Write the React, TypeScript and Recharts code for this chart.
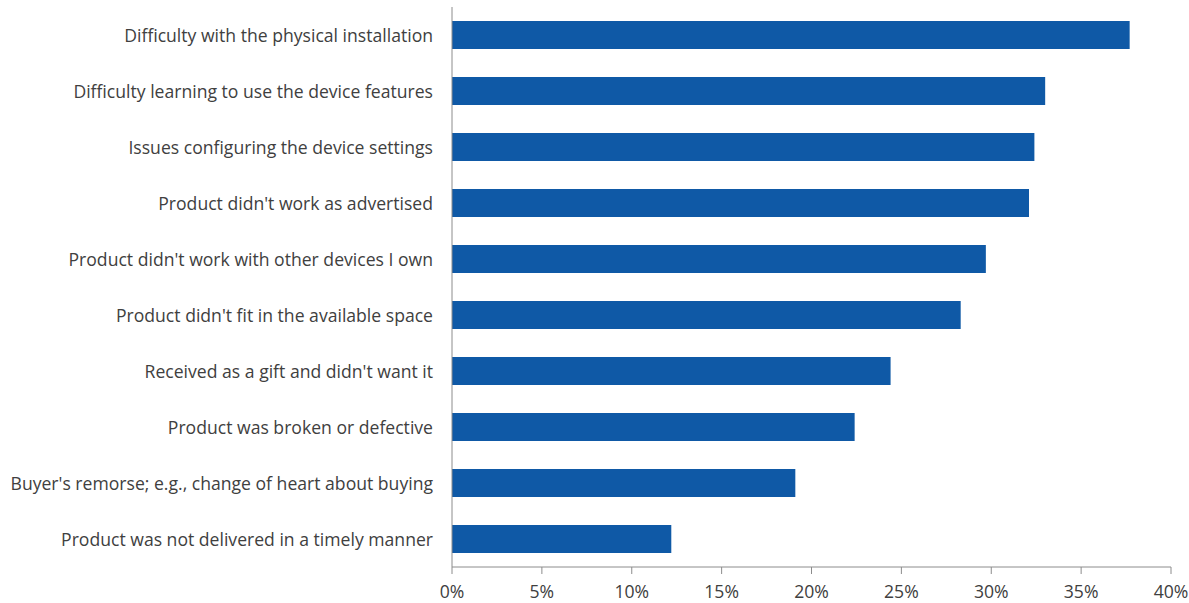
import { BarChart, Bar, XAxis, YAxis } from 'recharts';

const reasons = [
  'Difficulty with the physical installation',
  'Difficulty learning to use the device features',
  'Issues configuring the device settings',
  "Product didn't work as advertised",
  "Product didn't work with other devices I own",
  "Product didn't fit in the available space",
  "Received as a gift and didn't want it",
  'Product was broken or defective',
  "Buyer's remorse; e.g., change of heart about buying",
  'Product was not delivered in a timely manner',
];

const shares = [37.7, 33.0, 32.4, 32.1, 29.7, 28.3, 24.4, 22.4, 19.1, 12.2];

const xTicks = [0, 5, 10, 15, 20, 25, 30, 35, 40];

const data = reasons.map((name, i) => ({ name, value: shares[i] }));

const font = { fontFamily: '"Open Sans", sans-serif', fontSize: 17.6, fill: '#404040' };

export default function App() {
  return (
    <div
      style={{
        position: 'fixed',
        left: 0,
        top: 0,
        width: 1189,
        height: 603,
        overflow: 'hidden',
        background: '#fff',
      }}
    >
      <BarChart
        width={1189}
        height={603}
        data={data}
        layout="vertical"
        barSize={28}
        margin={{ top: 7, right: 18, bottom: 6, left: 0 }}
      >
        <XAxis
          type="number"
          dataKey="value"
          domain={[0, 40]}
          ticks={xTicks}
          tickFormatter={(v) => `${v}%`}
          stroke="#8c8c8c"
          tick={font}
          tickSize={7}
          tickMargin={12}
          height={30}
          interval={0}
        />
        <YAxis
          type="category"
          dataKey="name"
          width={452}
          stroke="#8c8c8c"
          tickLine={false}
          tickMargin={13}
          tick={{ ...font, dy: 1 }}
          interval={0}
        />
        <Bar dataKey="value" fill="#0f59a6" isAnimationActive={false} />
      </BarChart>
    </div>
  );
}
